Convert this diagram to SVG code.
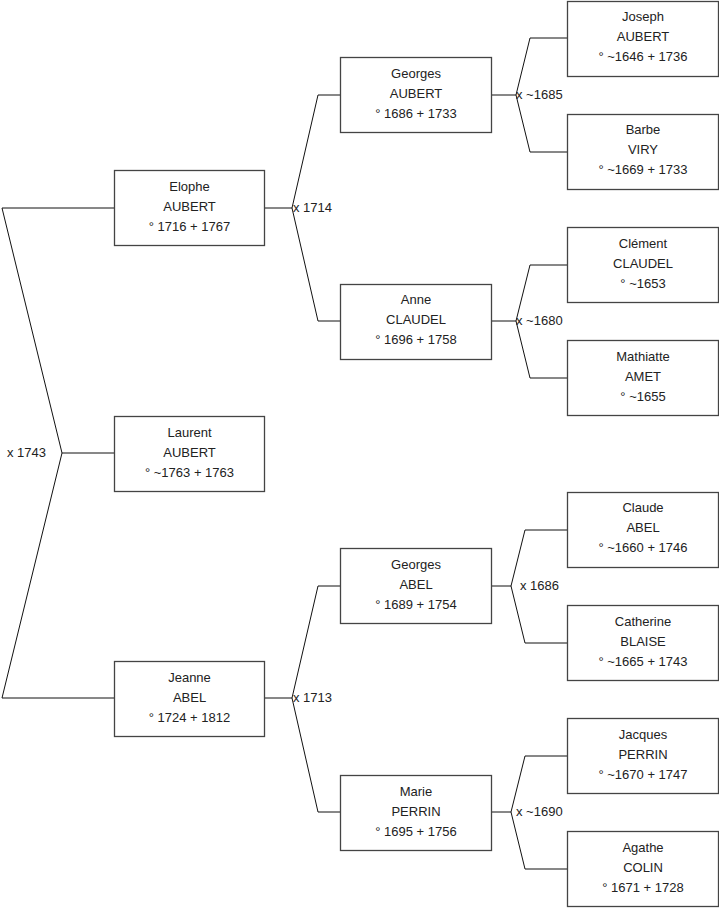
<svg xmlns="http://www.w3.org/2000/svg" width="719" height="908" viewBox="0 0 719 908">
<style>
.box{fill:#fff;stroke:#444;stroke-width:1.3}
.c{fill:none;stroke:#111;stroke-width:1}
text{font-family:"Liberation Sans",Arial,sans-serif;font-size:13px;fill:#222}
.t{text-anchor:middle}
</style>
<rect width="719" height="908" fill="#fff"/>
<g id="connectors">
<!-- root -->
<polyline class="c" points="114,208 2,208 62,453 2,698 114,698"/>
<line class="c" x1="62" y1="453" x2="114" y2="453"/>
<text x="7" y="457">x 1743</text>
<!-- Elophe -->
<polyline class="c" points="340,95 318,95 292,208 318,321 340,321"/>
<line class="c" x1="265" y1="208" x2="292" y2="208"/>
<text x="293" y="212">x 1714</text>
<!-- Jeanne -->
<polyline class="c" points="340,586 318,586 292,698 318,812 340,812"/>
<line class="c" x1="265" y1="698" x2="292" y2="698"/>
<text x="293" y="702">x 1713</text>
<!-- Georges Aubert -->
<polyline class="c" points="567,38 530,38 516,95 530,152 567,152"/>
<line class="c" x1="492" y1="95" x2="516" y2="95"/>
<text x="516" y="99">x ~1685</text>
<!-- Anne -->
<polyline class="c" points="567,265 530,265 516,321 530,378 567,378"/>
<line class="c" x1="492" y1="321" x2="516" y2="321"/>
<text x="516" y="325">x ~1680</text>
<!-- Georges Abel -->
<polyline class="c" points="567,530 525,530 511,586 525,643 567,643"/>
<line class="c" x1="492" y1="586" x2="511" y2="586"/>
<text x="520" y="590">x 1686</text>
<!-- Marie -->
<polyline class="c" points="567,756 525,756 511,812 525,869 567,869"/>
<line class="c" x1="492" y1="812" x2="511" y2="812"/>
<text x="516" y="816">x ~1690</text>
</g>
<g id="elophe"><rect class="box" x="114.5" y="170.5" width="150" height="75"/><text class="t" x="189.5" y="191">Elophe</text><text class="t" x="189.5" y="211">AUBERT</text><text class="t" x="189.5" y="231">° 1716 + 1767</text></g>
<g id="laurent"><rect class="box" x="114.5" y="416.5" width="150" height="75"/><text class="t" x="189.5" y="437">Laurent</text><text class="t" x="189.5" y="457">AUBERT</text><text class="t" x="189.5" y="477">° ~1763 + 1763</text></g>
<g id="jeanne"><rect class="box" x="114.5" y="661.5" width="150" height="75"/><text class="t" x="189.5" y="682">Jeanne</text><text class="t" x="189.5" y="702">ABEL</text><text class="t" x="189.5" y="722">° 1724 + 1812</text></g>
<g id="georges-aubert"><rect class="box" x="340.5" y="57.5" width="151" height="75"/><text class="t" x="416" y="78">Georges</text><text class="t" x="416" y="98">AUBERT</text><text class="t" x="416" y="118">° 1686 + 1733</text></g>
<g id="anne"><rect class="box" x="340.5" y="284.5" width="151" height="75"/><text class="t" x="416" y="304">Anne</text><text class="t" x="416" y="324">CLAUDEL</text><text class="t" x="416" y="344">° 1696 + 1758</text></g>
<g id="georges-abel"><rect class="box" x="340.5" y="548.5" width="151" height="75"/><text class="t" x="416" y="569">Georges</text><text class="t" x="416" y="589">ABEL</text><text class="t" x="416" y="609">° 1689 + 1754</text></g>
<g id="marie"><rect class="box" x="340.5" y="775.5" width="151" height="75"/><text class="t" x="416" y="796">Marie</text><text class="t" x="416" y="816">PERRIN</text><text class="t" x="416" y="836">° 1695 + 1756</text></g>
<g id="joseph"><rect class="box" x="567.5" y="1.5" width="151" height="75"/><text class="t" x="643" y="21">Joseph</text><text class="t" x="643" y="41">AUBERT</text><text class="t" x="643" y="61">° ~1646 + 1736</text></g>
<g id="barbe"><rect class="box" x="567.5" y="114.5" width="151" height="75"/><text class="t" x="643" y="134">Barbe</text><text class="t" x="643" y="154">VIRY</text><text class="t" x="643" y="174">° ~1669 + 1733</text></g>
<g id="clement"><rect class="box" x="567.5" y="227.5" width="151" height="75"/><text class="t" x="643" y="248">Clément</text><text class="t" x="643" y="268">CLAUDEL</text><text class="t" x="643" y="288">° ~1653</text></g>
<g id="mathiatte"><rect class="box" x="567.5" y="340.5" width="151" height="75"/><text class="t" x="643" y="361">Mathiatte</text><text class="t" x="643" y="381">AMET</text><text class="t" x="643" y="401">° ~1655</text></g>
<g id="claude"><rect class="box" x="567.5" y="492.5" width="151" height="75"/><text class="t" x="643" y="512">Claude</text><text class="t" x="643" y="532">ABEL</text><text class="t" x="643" y="552">° ~1660 + 1746</text></g>
<g id="catherine"><rect class="box" x="567.5" y="605.5" width="151" height="75"/><text class="t" x="643" y="626">Catherine</text><text class="t" x="643" y="646">BLAISE</text><text class="t" x="643" y="666">° ~1665 + 1743</text></g>
<g id="jacques"><rect class="box" x="567.5" y="718.5" width="151" height="75"/><text class="t" x="643" y="739">Jacques</text><text class="t" x="643" y="759">PERRIN</text><text class="t" x="643" y="779">° ~1670 + 1747</text></g>
<g id="agathe"><rect class="box" x="567.5" y="831.5" width="151" height="75"/><text class="t" x="643" y="852">Agathe</text><text class="t" x="643" y="872">COLIN</text><text class="t" x="643" y="892">° 1671 + 1728</text></g>
</svg>
